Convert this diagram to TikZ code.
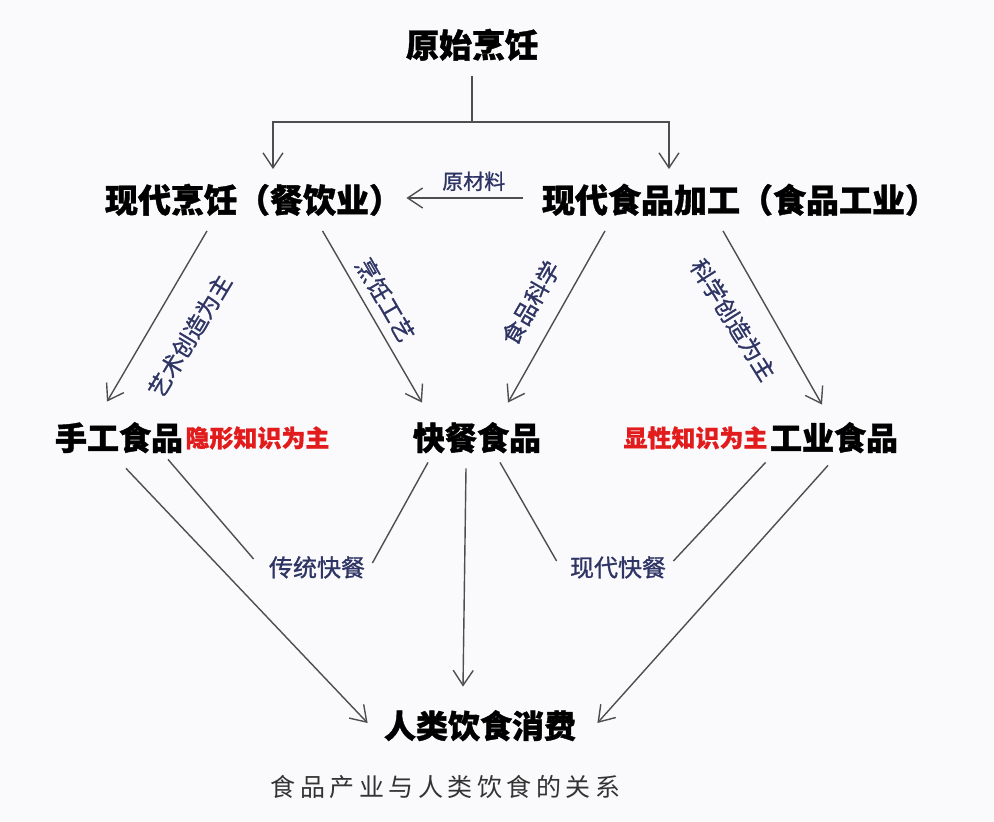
\documentclass[tikz,border=0pt]{standalone}
\usepackage{fontspec}
\setmainfont{Noto Sans CJK SC}
\usetikzlibrary{arrows.meta}
\definecolor{labelblue}{RGB}{46,52,100}
\definecolor{hintred}{RGB}{226,28,28}
\definecolor{linegray}{RGB}{78,78,78}
\definecolor{paper}{RGB}{250,250,252}

\begin{document}
\begin{tikzpicture}[x=1pt,y=-1pt,thick,
  main node/.style={font=\fontsize{32}{32}\selectfont\bfseries\addfontfeatures{FakeBold=1.2},text height=28pt,text depth=4pt,inner xsep=4pt,inner ysep=14pt},
  big node/.style={main node,font=\fontsize{33}{33}\selectfont\bfseries\addfontfeatures{FakeBold=1.2},text height=29pt},
  hint node/.style={font=\fontsize{24}{24}\selectfont\bfseries\addfontfeatures{FakeBold=0.8},text=hintred,text height=21pt,text depth=3pt,inner sep=1pt},
  label node/.style={font=\fontsize{23}{23}\selectfont\addfontfeatures{FakeBold=1},text=labelblue,text height=20pt,text depth=3pt,inner sep=2pt},
  line/.style={draw=linegray,line width=1.4pt},
  arrow/.style={line,-{Straight Barb[length=15pt,width=20pt,line width=1.4pt]}}]
  \fill[paper] (0,0) rectangle (994,822);
  \useasboundingbox (0,0) rectangle (994,822);

  \node[big node] at (472,45) (yuanshi) {原始烹饪};
  \node[big node] at (253.5,200) (pengren) {现代烹饪（餐饮业）};
  \node[big node] at (740,200) (shiping) {现代食品加工（食品工业）};
  \node[main node] at (119,438) (shougong) {手工食品};
  \node[main node] at (477,438) (kuaican) {快餐食品};
  \node[main node] at (834,438) (gongye) {工业食品};
  \node[main node] at (480,726) (xiaofei) {人类饮食消费};
  \node[hint node] at (257.5,438) (yinxing) {隐形知识为主};
  \node[hint node] at (695.5,438) (xianxing) {显性知识为主};
  \node[label node,font=\fontsize{24}{24}\selectfont\addfontfeatures{FakeBold=1}] at (317,568) (chuantong) {传统快餐};
  \node[label node,font=\fontsize{24}{24}\selectfont\addfontfeatures{FakeBold=1}] at (618,568) (xiandai) {现代快餐};
  \node[label node,rotate=59] at (190,336) (yishu) {艺术创造为主};
  \node[label node,rotate=-60] at (385,300) (gongyi) {烹饪工艺};
  \node[label node,rotate=60] at (531,303) (kexue) {食品科学};
  \node[label node,rotate=-58] at (733,320) (chuangzao) {科学创造为主};
  \node[font=\fontsize{25}{25}\selectfont\addfontfeatures{LetterSpace=18},text=black!80] at (445.5,787) (title) {食品产业与人类饮食的关系};

  \coordinate (fork) at (472,122);
  \draw[line] (yuanshi) -- (fork);
  \draw[arrow] (fork) -| ([xshift=19.5pt]pengren.north);
  \draw[arrow] (fork) -| ([xshift=-71pt]shiping.north);

  \path[every node/.style={label node,font=\fontsize{21}{21}\selectfont\addfontfeatures{FakeBold=1}}]
    ([shift={(-15pt,2pt)}]shiping.west) edge[arrow] node[above=3pt,pos=0.42] {原材料} ([yshift=2pt]pengren.east)
    ([xshift=-46.5pt]pengren.south) edge[arrow] ([shift={(-12pt,6pt)}]shougong.north)
    ([xshift=69pt]pengren.south) edge[arrow] ([shift={(-55pt,5pt)}]kuaican.north)
    ([xshift=-135pt]shiping.south) edge[arrow] ([shift={(31pt,5pt)}]kuaican.north)
    ([xshift=-17pt]shiping.south) edge[arrow] ([shift={(-12pt,3pt)}]gongye.north)
    ([xshift=7pt]shougong.south) edge[arrow] ([shift={(-12pt,3pt)}]xiaofei.west)
    ([shift={(49pt,9pt)}]shougong.south) edge[line] ([shift={(-13pt,9pt)}]chuantong.west)
    ([shift={(-49pt,6pt)}]kuaican.south) edge[line] ([shift={(5pt,5pt)}]chuantong.east)
    ([xshift=-11pt]kuaican.south) edge[arrow] ([shift={(-17pt,9pt)}]xiaofei.north)
    ([shift={(23pt,6pt)}]kuaican.south) edge[line] ([shift={(-11pt,7pt)}]xiandai.west)
    ([shift={(5pt,7pt)}]xiandai.east) edge[line] ([yshift=6pt]gongye.south west)
    ([shift={(-6pt,3pt)}]gongye.south) edge[arrow] ([shift={(17pt,3pt)}]xiaofei.east)
    ;
\end{tikzpicture}
\end{document}
